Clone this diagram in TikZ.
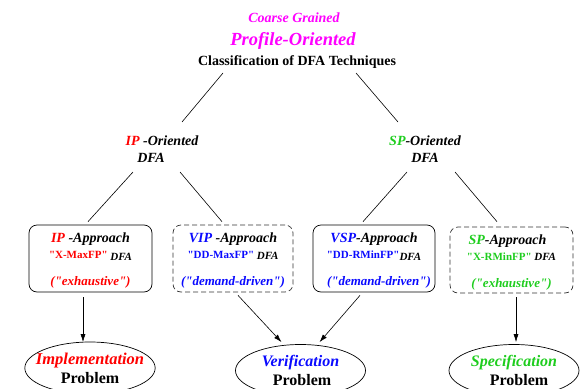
\documentclass[tikz,border=0pt]{standalone}
\usepackage{fontspec}
\setmainfont{Liberation Serif}
\usetikzlibrary{positioning, arrows.meta, calc, shapes.geometric}

\definecolor{ipred}{RGB}{255,0,0}
\definecolor{vblue}{RGB}{10,10,255}
\definecolor{spgreen}{RGB}{30,205,30}
\definecolor{pmagenta}{RGB}{255,0,255}

\newcommand{\bfit}{\bfseries\itshape}
\newcommand{\fsz}[1]{\fontsize{#1}{16}\selectfont}
\newcommand{\qt}[1]{\textquotedbl#1\textquotedbl}

\begin{document}
\begin{tikzpicture}[
    x=1pt, y=-1pt,
    txt/.style={inner sep=0pt, anchor=base, font=\bfit\fsz{14}},
    heading/.style={inner sep=0pt, anchor=base, font=\bfseries\fsz{14}},
    approach/.style={draw, rounded corners=8pt, minimum height=67pt, inner sep=0pt, align=center, font=\fsz{11}, line width=0.7pt},
    dashedbox/.style={approach, dash pattern=on 5pt off 3pt, draw=black!80},
    problem/.style={draw, ellipse, minimum width=130pt, minimum height=52pt, inner xsep=-8pt, inner ysep=0pt, align=center, font=\fontsize{16}{19}\selectfont, line width=0.7pt},
    branch/.style={line width=0.6pt},
    flow/.style={line width=0.6pt, -{Latex[length=8pt,width=5pt]}}
]

\clip (0,0) rectangle (583,388);

% --- header ---
\node[txt, text=pmagenta] (coarse) at (294,22) {Coarse Grained};
\node[txt, text=pmagenta, font=\bfit\fsz{18.5}] (profile) at (293,45) {Profile-Oriented};
\node[heading] (title) at (297,65) {Classification of DFA Techniques};

% --- IP / SP oriented ---
\node[txt] (ipo) at (162,145) {\textcolor{ipred}{IP} -Oriented};
\node[txt] (ipdfa) at (151,162) {DFA};
\node[txt] (spo) at (425,145) {\textcolor{spgreen}{SP}-Oriented};
\node[txt] (spdfa) at (425,162) {DFA};

% --- approaches ---
\node[approach, minimum width=123pt] (ipbox) at (90.5,258.5)
  {{\fsz{14}\bfit\rule{0pt}{14pt}\textcolor{ipred}{IP} -Approach}\\
   {\bfseries\textcolor{ipred}{\qt{X-MaxFP}}} \raisebox{-2pt}{\bfit DFA}\\[11pt]
   {\fsz{13}\bfit\textcolor{ipred}{(\qt{exhaustive})}}};
\node[dashedbox, minimum width=120pt] (vipbox) at (233,258.5)
  {{\fsz{14}\bfit\rule{0pt}{14pt}\textcolor{vblue}{VIP} -Approach}\\
   {\bfseries\textcolor{vblue}{\qt{DD-MaxFP}}} \raisebox{-1pt}{\bfit DFA}\\[11pt]
   {\fsz{13}\bfit\textcolor{vblue}{(\qt{demand-driven})}}};
\node[approach, minimum width=122pt] (vspbox) at (374,258.5)
  {{\fsz{14}\bfit\rule{0pt}{14pt}\textcolor{vblue}{VSP}-Approach}\\
   {\bfseries\textcolor{vblue}{\qt{DD-RMinFP}}}\raisebox{-2pt}{\bfit DFA}\\[11pt]
   {\fsz{13}\bfit\hspace*{10pt}\textcolor{vblue}{(\qt{demand-driven})}}};
\node[dashedbox, minimum width=123pt, minimum height=66pt] (spbox) at (511.5,260)
  {{\fsz{14}\bfit\rule{0pt}{14pt}\textcolor{spgreen}{SP}-Approach\hspace*{8pt}}\\
   {\bfseries\textcolor{spgreen}{\qt{X-RMinFP}}} {\bfit DFA}\\[11pt]
   {\fsz{13}\bfit\textcolor{spgreen}{(\qt{exhaustive})}}};

% --- problems ---
\node[problem] (impl) at (90,368)
  {{\fontsize{16.5}{19}\selectfont\bfit\textcolor{ipred}{Implementation}}\\ \bfseries Problem};
\node[problem] (verif) at (300.5,370.5)
  {{\bfit\textcolor{vblue}{Verification}}\\ \bfseries\hspace*{3pt}Problem};
\node[problem] (spec) at (514,370.5)
  {{\bfit\textcolor{spgreen}{Specification}}\\ \bfseries\hspace*{10pt}Problem};

% --- tree lines ---
\draw[branch] ($(title.base)+(-74,8)$) -- ($(ipo.base)+(20,-23)$);
\draw[branch] ($(title.base)+(59,8)$) -- ($(spo.base)+(-27,-23)$);
\draw[branch] ($(ipdfa.base)+(-18,10)$) -- ($(ipbox.north)+(-2.5,-3)$);
\draw[branch] ($(ipdfa.base)+(29,10)$) -- ($(vipbox.north)+(-11,-3)$);
\draw[branch] ($(spdfa.base)+(-18,10)$) -- ($(vspbox.north)+(-11,-3)$);
\draw[branch] ($(spdfa.base)+(30,10)$) -- ($(spbox.north)+(-14.5,-5)$);

% --- approach -> problem ---
\draw[flow] ($(ipbox.south)+(-7.5,5)$) -- ($(impl.north)+(-7,0.5)$);
\draw[flow] ($(vipbox.south)+(5,3)$) -- ($(verif.north)+(-19,-2)$);
\draw[flow] ($(vspbox.south)+(-14,3)$) -- ($(verif.north)+(19,-2)$);
\draw[flow] ($(spbox.south)+(4.5,4)$) -- ($(spec.north)+(2,-2)$);

\end{tikzpicture}
\end{document}
